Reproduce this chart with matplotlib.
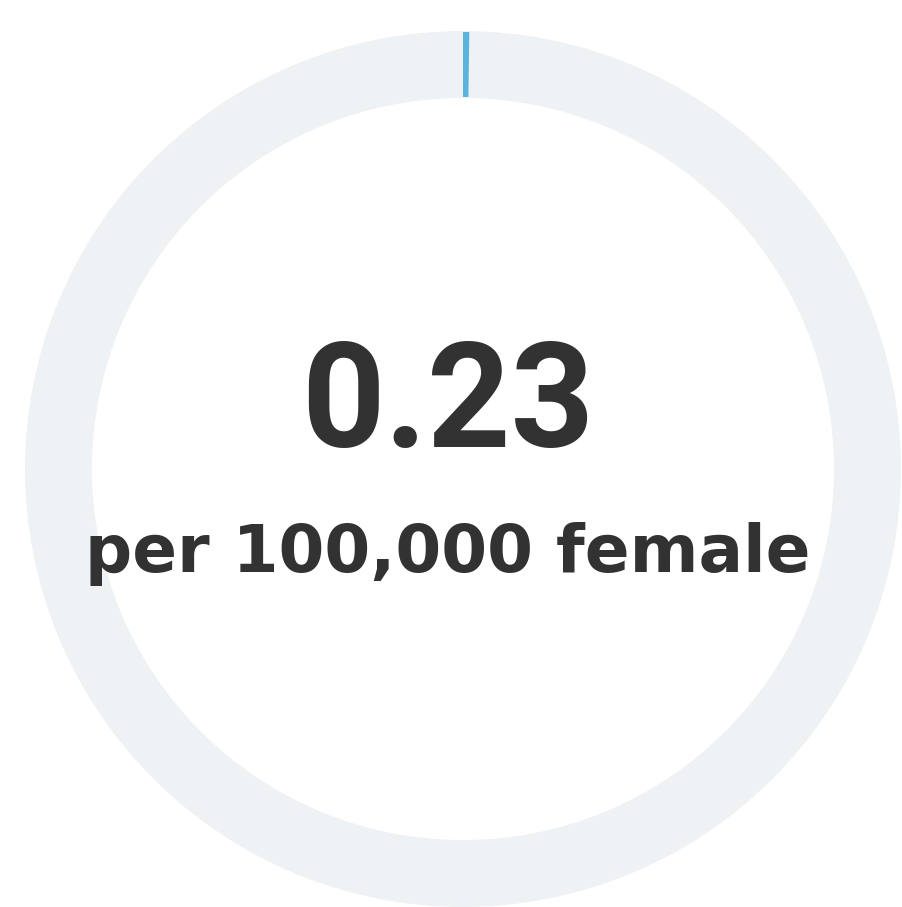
import matplotlib
matplotlib.use('Agg')
import matplotlib.pyplot as plt
from matplotlib.patches import Wedge

# data
value = 0.23
scale_max = 100.0
value_label = '0.23'
unit_label = 'per 100,000 female'

ring_color = '#eef2f4'
bar_color = '#5ab4dc'
text_color = '#323232'

fig = plt.figure(figsize=(9.02, 9.07), dpi=100)
ax = fig.add_axes([0, 0, 1, 1])
ax.set_xlim(0, 902)
ax.set_ylim(907, 0)
ax.set_aspect('equal')
ax.axis('off')

cx, cy = 463, 469
r_out, width = 438, 67

# background ring
ax.add_patch(Wedge((cx, cy), r_out, 0, 360, width=width, color=ring_color, lw=0))

# value arc, clockwise from 12 o'clock (y axis inverted so angles go clockwise)
start = -90
end = start + 360 * value / scale_max
ax.add_patch(Wedge((cx, cy), r_out - 1, start, end, width=width - 2, color=bar_color, lw=0))

ax.text(448, 447, value_label, ha='center', va='baseline', fontsize=105,
        fontweight='bold', family=['Roboto', 'DejaVu Sans'], color=text_color)
ax.text(448, 572, unit_label, ha='center', va='baseline', fontsize=47.5,
        fontweight='bold', family=['DejaVu Sans'], color=text_color)

fig.savefig('out.png', dpi=100, facecolor='white')
